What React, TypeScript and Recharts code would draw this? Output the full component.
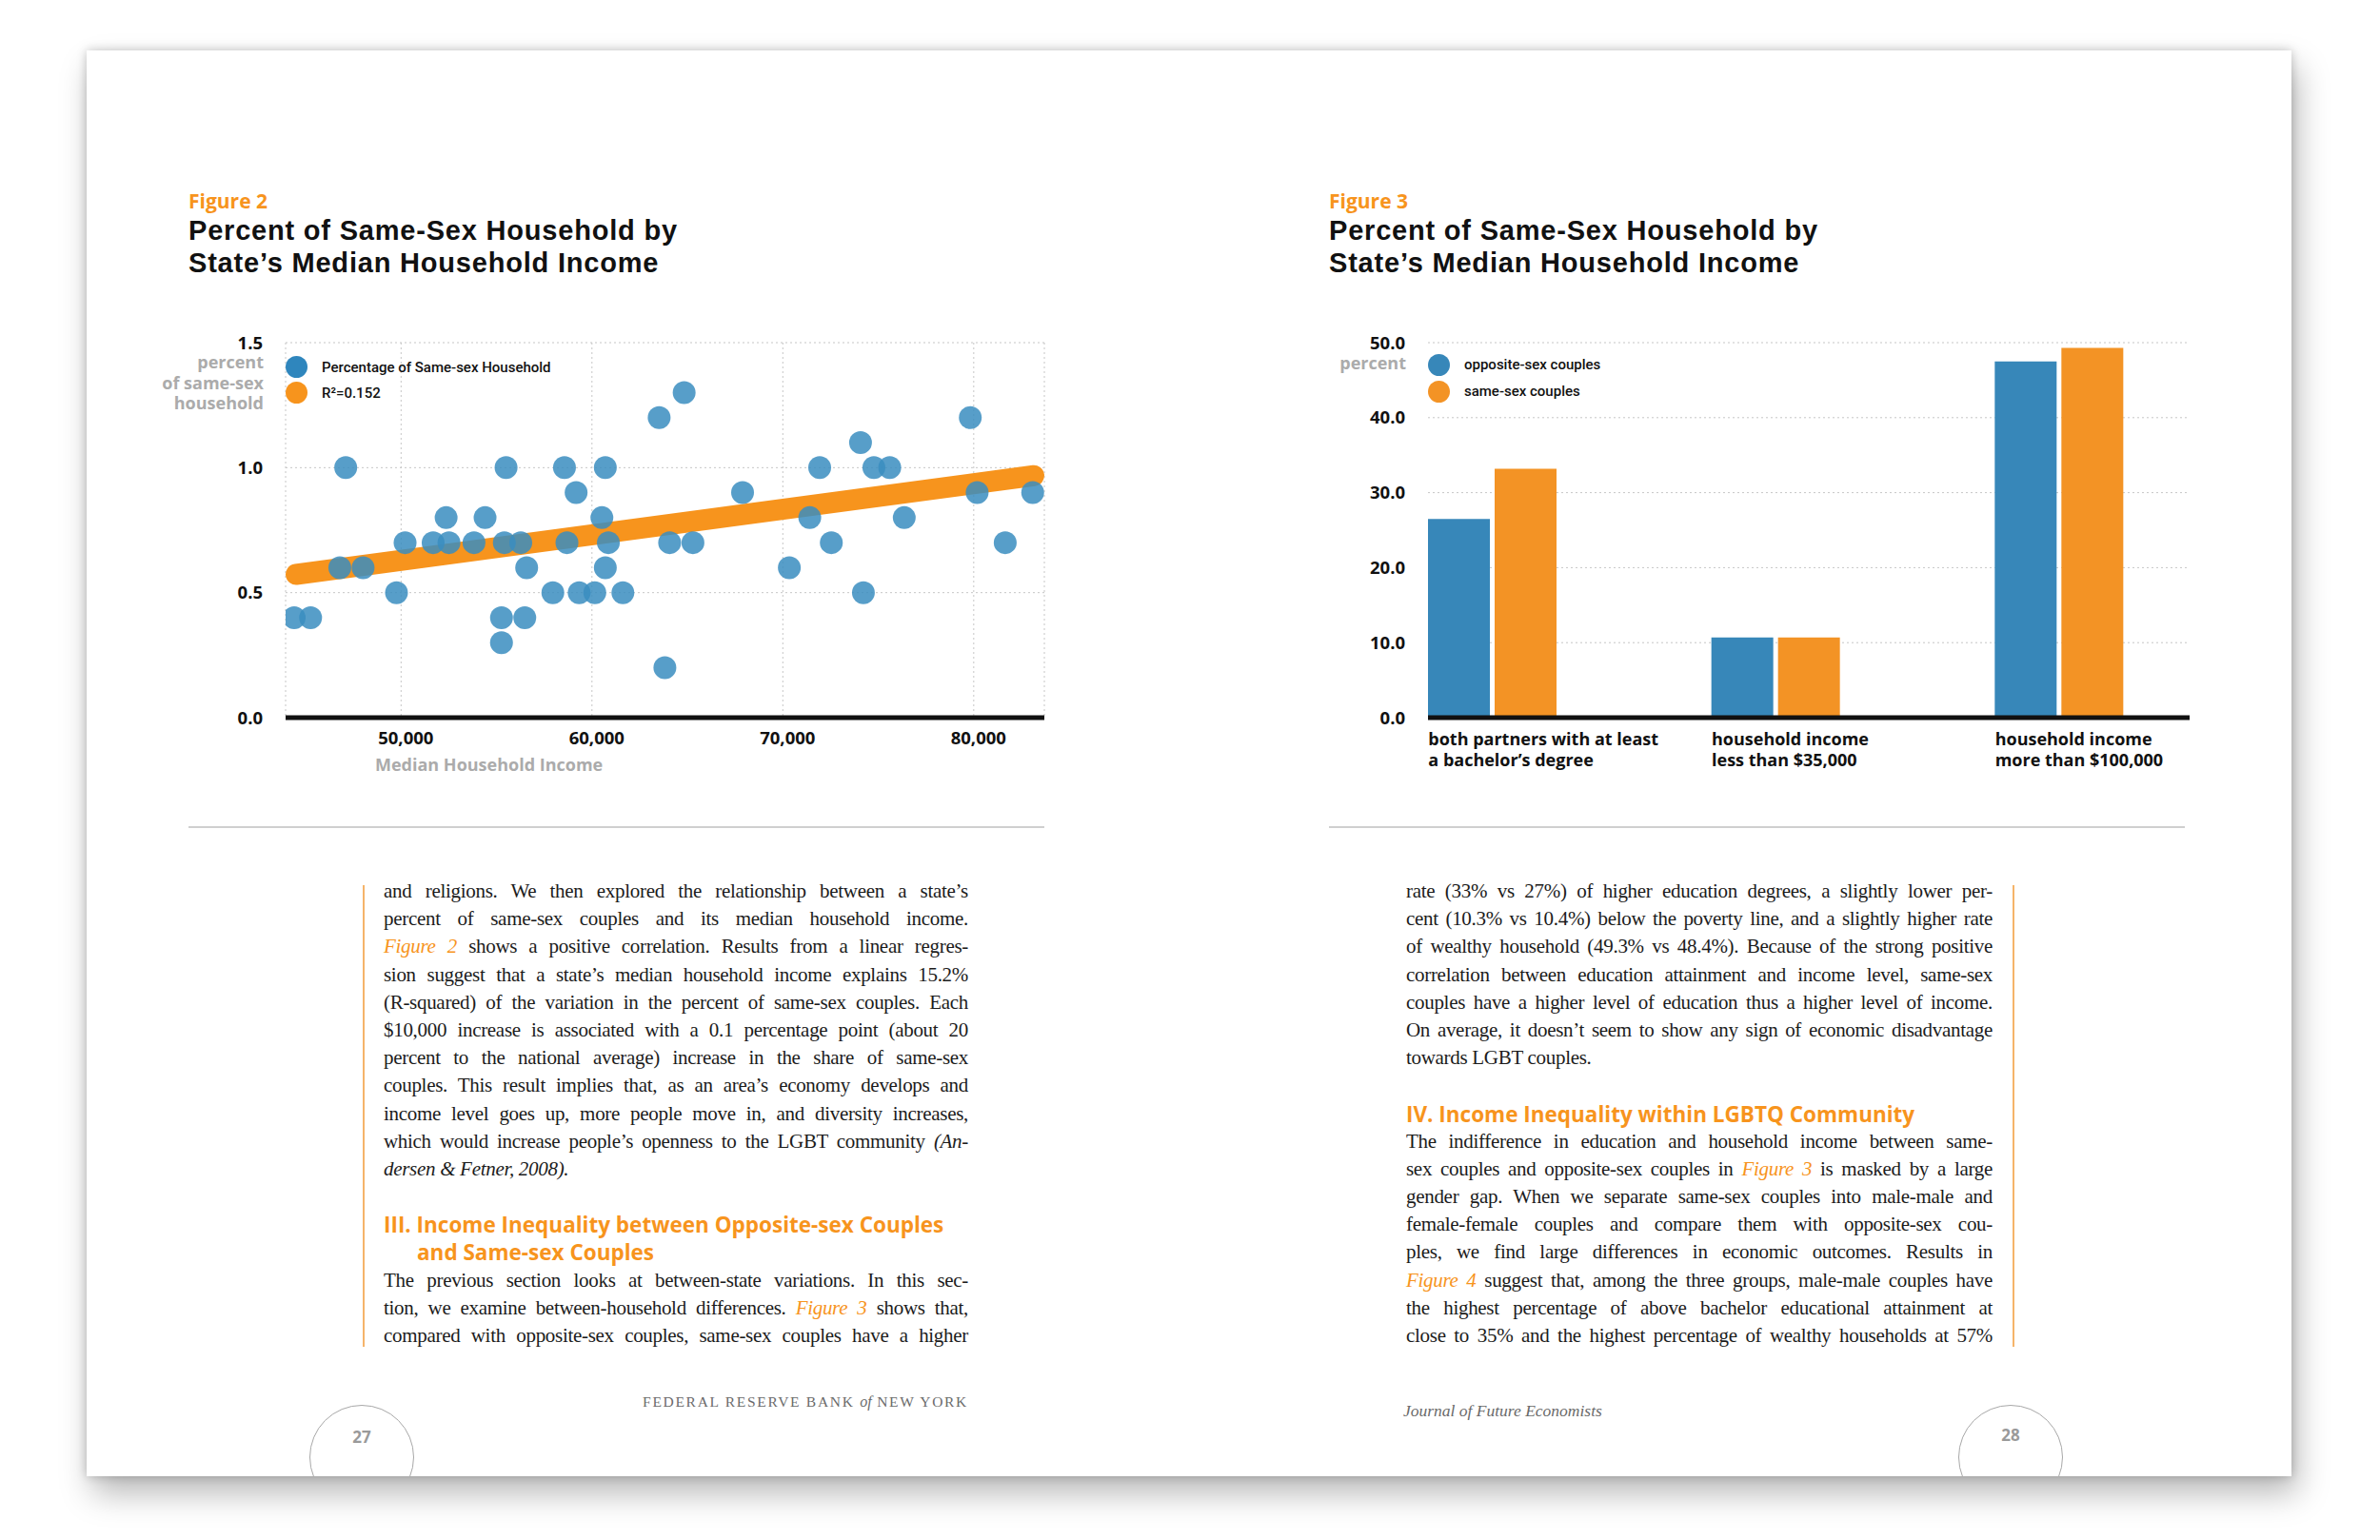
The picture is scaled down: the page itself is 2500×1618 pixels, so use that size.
import React from 'react';
import {
  ScatterChart,
  Scatter,
  BarChart,
  Bar,
  XAxis,
  YAxis,
  CartesianGrid,
  Legend,
} from 'recharts';

const SANS = 'Roboto, "Liberation Sans", Arial, sans-serif';
const WIDE = '"Open Sans", Roboto, "Liberation Sans", sans-serif';
const HEAD = '"Liberation Sans", Arial, sans-serif';
const SERIF = '"Liberation Serif", "DejaVu Serif", serif';
const ORANGE = '#f7941d';
const BLUE = '#3787b9';
const DOT = '#3a8dc0';
const GREY_LABEL = '#ababab';

// Figure 2: one point per state
const stateIncome = [
  44400, 45260, 46790, 47100, 48010, 49760, 50210, 51680, 52360, 52510,
  53820, 54400, 55260, 55260, 55410, 55500, 56270, 56480, 56580, 57950,
  58560, 58690, 59170, 59330, 60150, 60520, 60700, 60700, 60860, 61620,
  63520, 63820, 64070, 64830, 65290, 67890, 70340, 71410, 71930, 72540,
  74070, 74220, 74770, 75600, 76360, 79820, 80180, 81650, 83090,
];
const stateShare = [
  0.4, 0.4, 0.6, 1.0, 0.6, 0.5, 0.7, 0.7, 0.8, 0.7,
  0.7, 0.8, 0.4, 0.3, 0.7, 1.0, 0.7, 0.4, 0.6, 0.5,
  1.0, 0.7, 0.9, 0.5, 0.5, 0.8, 1.0, 0.6, 0.7, 0.5,
  1.2, 0.2, 0.7, 1.3, 0.7, 0.9, 0.6, 0.8, 1.0, 0.7,
  1.1, 0.5, 1.0, 1.0, 0.8, 1.2, 0.9, 0.7, 0.9,
];
const trendIncome = [44500, 83150];
const trendShare = [0.573, 0.968];
const incomeTicks = [50000, 60000, 70000, 80000];
const shareTicks = [0, 0.5, 1, 1.5];
const scatterLegend = [
  { label: 'Percentage of Same-sex Household', color: '#2f86bd' },
  { label: 'R²=0.152', color: ORANGE },
];

// Figure 3
const groupLabels = [
  ['both partners with at least', 'a bachelor’s degree'],
  ['household income', 'less than $35,000'],
  ['household income', 'more than $100,000'],
];
const oppositeSex = [26.5, 10.7, 47.5];
const sameSex = [33.2, 10.7, 49.3];
const percentTicks = [0, 10, 20, 30, 40, 50];
const barLegend = [
  { label: 'opposite-sex couples', color: BLUE },
  { label: 'same-sex couples', color: '#f39325' },
];

const states = stateIncome.map((income, i) => ({ income, share: stateShare[i] }));
const trend = trendIncome.map((income, i) => ({ income, share: trendShare[i] }));
const groupNames = groupLabels.map((l) => l.join(' '));
const barData = groupNames.map((name, i) => ({
  name,
  opposite: oppositeSex[i],
  same: sameSex[i],
}));

const tickStyle = { fontFamily: WIDE, fontSize: 18.5, fontWeight: 700, fill: '#111' };

function LegendList({ items, rowHeight }: { items: { label: string; color: string }[]; rowHeight: number }) {
  return (
    <div style={{ fontFamily: SANS, fontSize: 15, fontWeight: 500, color: '#111' }}>
      {items.map((item) => (
        <div key={item.label} style={{ display: 'flex', alignItems: 'center', height: rowHeight }}>
          <span
            style={{
              width: 23,
              height: 23,
              borderRadius: '50%',
              background: item.color,
              marginRight: 15,
              flex: 'none',
            }}
          />
          <span style={{ whiteSpace: 'nowrap' }}>{item.label}</span>
        </div>
      ))}
    </div>
  );
}

const StateDot = (props: any) => (
  <circle cx={props.cx} cy={props.cy} r={12} fill={DOT} fillOpacity={0.85} />
);

const CategoryTick = (props: any) => {
  const { x, y, payload } = props;
  const idx = groupNames.indexOf(payload.value);
  const lines = groupLabels[idx] || [];
  const left = x - 67.5;
  return (
    <text x={left} y={y} fontFamily={WIDE} fontSize={18} fontWeight={700} fill="#111">
      {lines.map((l, i) => (
        <tspan key={i} x={left} dy={i === 0 ? 28.5 : 22.5}>
          {l}
        </tspan>
      ))}
    </text>
  );
};

function Figure2() {
  return (
    <ScatterChart width={960} height={520} margin={{ top: 30, right: 23, bottom: 36, left: 80 }}>
      <CartesianGrid stroke="#c6c6c6" strokeDasharray="2 3" />
      <XAxis
        type="number"
        dataKey="income"
        domain={[43950, 83700]}
        ticks={incomeTicks}
        tickFormatter={(v: number) => v.toLocaleString('en-US')}
        axisLine={{ stroke: '#111', strokeWidth: 5 }}
        tickLine={false}
        tickSize={0}
        tickMargin={15}
        height={60}
        tick={{ ...tickStyle, dx: 5 }}
        allowDataOverflow
      />
      <YAxis
        type="number"
        dataKey="share"
        domain={[0, 1.5]}
        ticks={shareTicks}
        tickFormatter={(v: number) => v.toFixed(1)}
        axisLine={false}
        tickLine={false}
        tickSize={0}
        tickMargin={24}
        width={60}
        tick={tickStyle}
      />
      <Legend
        layout="vertical"
        align="center"
        verticalAlign="middle"
        wrapperStyle={{ left: 140, top: 42 }}
        content={() => <LegendList items={scatterLegend} rowHeight={27} />}
      />
      <Scatter
        data={trend}
        line={{ stroke: ORANGE, strokeWidth: 22, strokeLinecap: 'round' }}
        shape={() => <g />}
        isAnimationActive={false}
      />
      <Scatter data={states} shape={StateDot} isAnimationActive={false} />
    </ScatterChart>
  );
}

function Figure3() {
  return (
    <BarChart
      width={960}
      height={520}
      data={barData}
      margin={{ top: 30, right: 40, bottom: 36, left: 60 }}
      barSize={65}
      barGap={5}
    >
      <CartesianGrid vertical={false} stroke="#c6c6c6" strokeDasharray="2 3" />
      <XAxis
        dataKey="name"
        padding={{ left: -81, right: -12 }}
        axisLine={{ stroke: '#111', strokeWidth: 5 }}
        tickLine={false}
        tickSize={0}
        tickMargin={0}
        interval={0}
        height={60}
        tick={<CategoryTick />}
      />
      <YAxis
        domain={[0, 50]}
        ticks={percentTicks}
        tickFormatter={(v: number) => v.toFixed(1)}
        axisLine={false}
        tickLine={false}
        tickSize={0}
        tickMargin={24}
        width={60}
        tick={tickStyle}
      />
      <Legend
        layout="vertical"
        align="center"
        verticalAlign="middle"
        wrapperStyle={{ left: 120, top: 39 }}
        content={() => <LegendList items={barLegend} rowHeight={28} />}
      />
      <Bar dataKey="opposite" fill={BLUE} isAnimationActive={false} />
      <Bar dataKey="same" fill="#f39325" isAnimationActive={false} />
    </BarChart>
  );
}

const fig = (t: string) => (
  <span style={{ color: ORANGE, fontStyle: 'italic' }}>{t}</span>
);
const it = (t: string) => <span style={{ fontStyle: 'italic' }}>{t}</span>;

type Row = { kind: 'text' | 'last' | 'head' | 'blank'; content?: React.ReactNode; indent?: number };

const leftRows: Row[] = [
  { kind: 'text', content: 'and religions. We then explored the relationship between a state’s' },
  { kind: 'text', content: 'percent of same-sex couples and its median household income.' },
  { kind: 'text', content: <>{fig('Figure 2')} shows a positive correlation. Results from a linear regres-</> },
  { kind: 'text', content: 'sion suggest that a state’s median household income explains 15.2%' },
  { kind: 'text', content: '(R-squared) of the variation in the percent of same-sex couples. Each' },
  { kind: 'text', content: '$10,000 increase is associated with a 0.1 percentage point (about 20' },
  { kind: 'text', content: 'percent to the national average) increase in the share of same-sex' },
  { kind: 'text', content: 'couples. This result implies that, as an area’s economy develops and' },
  { kind: 'text', content: 'income level goes up, more people move in, and diversity increases,' },
  { kind: 'text', content: <>which would increase people’s openness to the LGBT community {it('(An-')}</> },
  { kind: 'last', content: it('dersen & Fetner, 2008).') },
  { kind: 'blank' },
  { kind: 'head', content: 'III. Income Inequality between Opposite-sex Couples' },
  { kind: 'head', content: 'and Same-sex Couples', indent: 35 },
  { kind: 'text', content: 'The previous section looks at between-state variations. In this sec-' },
  { kind: 'text', content: <>tion, we examine between-household differences. {fig('Figure 3')} shows that,</> },
  { kind: 'text', content: 'compared with opposite-sex couples, same-sex couples have a higher' },
];

const rightRows: Row[] = [
  { kind: 'text', content: 'rate (33% vs 27%) of higher education degrees, a slightly lower per-' },
  { kind: 'text', content: 'cent (10.3% vs 10.4%) below the poverty line, and a slightly higher rate' },
  { kind: 'text', content: 'of wealthy household (49.3% vs 48.4%). Because of the strong positive' },
  { kind: 'text', content: 'correlation between education attainment and income level, same-sex' },
  { kind: 'text', content: 'couples have a higher level of education thus a higher level of income.' },
  { kind: 'text', content: 'On average, it doesn’t seem to show any sign of economic disadvantage' },
  { kind: 'last', content: 'towards LGBT couples.' },
  { kind: 'blank' },
  { kind: 'head', content: 'IV. Income Inequality within LGBTQ Community' },
  { kind: 'text', content: 'The indifference in education and household income between same-' },
  { kind: 'text', content: <>sex couples and opposite-sex couples in {fig('Figure 3')} is masked by a large</> },
  { kind: 'text', content: 'gender gap. When we separate same-sex couples into male-male and' },
  { kind: 'text', content: 'female-female couples and compare them with opposite-sex cou-' },
  { kind: 'text', content: 'ples, we find large differences in economic outcomes. Results in' },
  { kind: 'text', content: <>{fig('Figure 4')} suggest that, among the three groups, male-male couples have</> },
  { kind: 'text', content: 'the highest percentage of above bachelor educational attainment at' },
  { kind: 'text', content: 'close to 35% and the highest percentage of wealthy households at 57%' },
];

function Column({ rows, left, width }: { rows: Row[]; left: number; width: number }) {
  return (
    <div style={{ position: 'absolute', left, top: 922, width }}>
      {rows.map((r, i) => {
        const base: React.CSSProperties = {
          height: 29.2,
          lineHeight: '29.2px',
          whiteSpace: 'nowrap',
          overflow: 'visible',
        };
        if (r.kind === 'blank') return <div key={i} style={base} />;
        if (r.kind === 'head')
          return (
            <div
              key={i}
              style={{
                ...base,
                fontFamily: WIDE,
                fontWeight: 700,
                fontSize: 22.5,
                color: ORANGE,
                paddingLeft: r.indent || 0,
              }}
            >
              {r.content}
            </div>
          );
        return (
          <div
            key={i}
            style={{
              ...base,
              fontFamily: SERIF,
              fontSize: 21,
              letterSpacing: -0.3,
              color: '#1c1c1c',
              textAlign: 'justify',
              textAlignLast: r.kind === 'last' ? 'left' : 'justify',
            }}
          >
            {r.content}
          </div>
        );
      })}
    </div>
  );
}

function Title({ left, num }: { left: number; num: number }) {
  const line: React.CSSProperties = {
    color: '#111',
    fontFamily: HEAD,
    fontWeight: 700,
    fontSize: 29,
    letterSpacing: 0.8,
    lineHeight: '33.5px',
    height: 33.5,
    whiteSpace: 'nowrap',
  };
  return (
    <div style={{ position: 'absolute', left, top: 197 }}>
      <div style={{ color: ORANGE, fontFamily: WIDE, fontWeight: 700, fontSize: 21, lineHeight: '28px' }}>
        Figure {num}
      </div>
      <div style={{ ...line, marginTop: 1 }}>Percent of Same-Sex Household by</div>
      <div style={line}>State’s Median Household Income</div>
    </div>
  );
}

function PageNumber({ cx, label, textY }: { cx: number; label: string; textY: number }) {
  return (
    <>
      <div
        style={{
          position: 'absolute',
          left: cx - 91 - 55,
          top: 1476 - 53,
          width: 110,
          height: 110,
          borderRadius: '50%',
          border: '1.5px solid #a8a8a8',
          boxSizing: 'border-box',
        }}
      />
      <div
        style={{
          position: 'absolute',
          left: cx - 91 - 30,
          top: textY - 53 - 12,
          width: 60,
          textAlign: 'center',
          fontFamily: WIDE,
          fontWeight: 700,
          fontSize: 17,
          lineHeight: '24px',
          color: '#9a9a9a',
        }}
      >
        {label}
      </div>
    </>
  );
}

export default function App() {
  return (
    <div style={{ position: 'absolute', left: 0, top: 0, width: 2500, height: 1618, background: '#fff', overflow: 'hidden' }}>
      <div
        style={{
          position: 'absolute',
          left: 91,
          top: 53,
          width: 2316,
          height: 1498,
          background: '#fff',
          overflow: 'hidden',
          boxShadow: '0 0 10px rgba(0,0,0,0.22), 6px 18px 32px rgba(0,0,0,0.28)',
        }}
      >
        <PageNumber cx={380} label="27" textY={1510} />
        <PageNumber cx={2112} label="28" textY={1508} />
      </div>

      <Title left={198} num={2} />
      <Title left={1396} num={3} />

      <div style={{ position: 'absolute', left: 160, top: 330 }}>
        <Figure2 />
      </div>
      <div style={{ position: 'absolute', left: 1380, top: 330 }}>
        <Figure3 />
      </div>

      {/* axis captions */}
      <div
        style={{
          position: 'absolute',
          left: 77,
          top: 370,
          width: 200,
          textAlign: 'right',
          fontFamily: WIDE,
          fontWeight: 700,
          fontSize: 18,
          lineHeight: '21.5px',
          color: GREY_LABEL,
          whiteSpace: 'nowrap',
        }}
      >
        percent
        <br />
        of same-sex
        <br />
        household
      </div>
      <div
        style={{
          position: 'absolute',
          left: 394,
          top: 791,
          fontFamily: WIDE,
          fontWeight: 700,
          fontSize: 18,
          lineHeight: '24px',
          color: GREY_LABEL,
          whiteSpace: 'nowrap',
        }}
      >
        Median Household Income
      </div>
      <div
        style={{
          position: 'absolute',
          left: 1377,
          top: 370,
          width: 100,
          textAlign: 'right',
          fontFamily: WIDE,
          fontWeight: 700,
          fontSize: 18,
          lineHeight: '22px',
          color: GREY_LABEL,
        }}
      >
        percent
      </div>

      {/* separators */}
      <div style={{ position: 'absolute', left: 198, top: 868, width: 899, height: 1.5, background: '#cfcfcf' }} />
      <div style={{ position: 'absolute', left: 1396, top: 868, width: 899, height: 1.5, background: '#cfcfcf' }} />

      {/* orange column rules */}
      <div style={{ position: 'absolute', left: 381, top: 930, width: 1.5, height: 485, background: '#f5b46a' }} />
      <div style={{ position: 'absolute', left: 2114, top: 930, width: 1.5, height: 485, background: '#f5b46a' }} />

      <Column rows={leftRows} left={403} width={614} />
      <Column rows={rightRows} left={1477} width={616} />

      {/* running footers */}
      <div
        style={{
          position: 'absolute',
          left: 617,
          top: 1461,
          width: 400,
          textAlign: 'right',
          fontFamily: SERIF,
          fontSize: 15.5,
          letterSpacing: 1.7,
          lineHeight: '24px',
          color: '#6a6a6a',
          whiteSpace: 'nowrap',
        }}
      >
        FEDERAL RESERVE BANK <span style={{ fontStyle: 'italic', letterSpacing: 0, fontSize: 16 }}>of</span> NEW YORK
      </div>
      <div
        style={{
          position: 'absolute',
          left: 1474,
          top: 1470,
          fontFamily: SERIF,
          fontStyle: 'italic',
          fontSize: 17.5,
          lineHeight: '24px',
          color: '#6a6a6a',
          whiteSpace: 'nowrap',
        }}
      >
        Journal of Future Economists
      </div>
    </div>
  );
}
